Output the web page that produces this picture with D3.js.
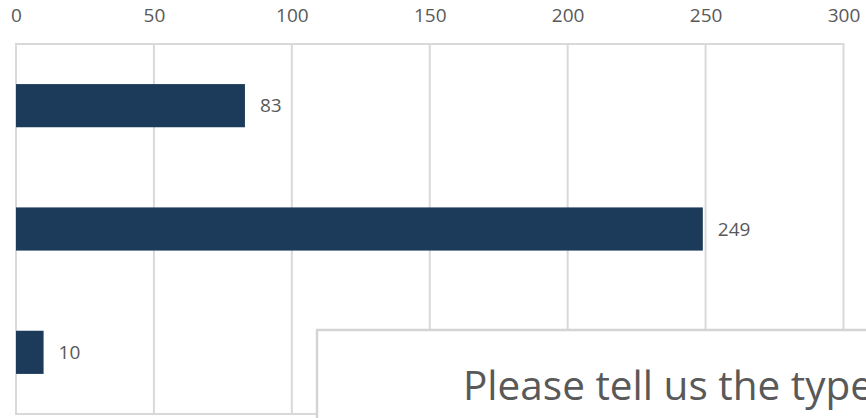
<!DOCTYPE html>
<html><head><meta charset="utf-8">
<script src="https://cdn.jsdelivr.net/npm/d3@7"></script>
<style>html,body{margin:0;padding:0;background:#fff;overflow:hidden}</style>
</head><body>
<svg id="c" width="866" height="418"></svg>
<script>
const categories = ["A", "B", "C"];
const values = [83, 249, 10];
const tickValues = [0, 50, 100, 150, 200, 250, 300];
const overlayText = "Please tell us the type";

const svg = d3.select("#c");
const m = {left: 16, right: 843.5, top: 44, bottom: 414};
const x = d3.scaleLinear().domain([0, 300]).range([m.left, m.right]);
const y = d3.scaleBand().domain(categories).range([m.top, m.bottom]).paddingInner(0.65).paddingOuter(0.325);

// gridlines
svg.append("g").selectAll("line").data(tickValues).join("line")
  .attr("x1", d => x(d)).attr("x2", d => x(d))
  .attr("y1", m.top).attr("y2", m.bottom)
  .attr("stroke", "#d9d9d9").attr("stroke-width", 2);
svg.append("line").attr("x1", m.left - 1).attr("x2", m.right + 1)
  .attr("y1", m.top).attr("y2", m.top).attr("stroke", "#d9d9d9").attr("stroke-width", 2);
svg.append("line").attr("x1", m.left - 1).attr("x2", m.right + 1)
  .attr("y1", m.bottom).attr("y2", m.bottom).attr("stroke", "#d9d9d9").attr("stroke-width", 2);

// top axis
const ax = svg.append("g").attr("transform", `translate(0,${m.top})`)
  .call(d3.axisTop(x).tickValues(tickValues).tickSize(0).tickPadding(22));
ax.select(".domain").remove();
ax.selectAll("text").attr("font-family", "'Open Sans', sans-serif").attr("font-size", 19).attr("fill", "#595959");

// bars
svg.append("g").selectAll("rect").data(values).join("rect")
  .attr("x", x(0)).attr("y", (d, i) => y(categories[i]))
  .attr("width", d => x(d) - x(0)).attr("height", y.bandwidth())
  .attr("fill", "#1c3a5a");

svg.append("g").selectAll("text").data(values).join("text")
  .attr("x", d => x(d) + 15).attr("y", (d, i) => y(categories[i]) + y.bandwidth() / 2)
  .attr("dy", "0.35em")
  .attr("font-family", "'Open Sans', sans-serif").attr("font-size", 19).attr("fill", "#595959")
  .text(d => d);

// overlay box
svg.append("rect").attr("x", 317).attr("y", 330).attr("width", 600).attr("height", 200)
  .attr("fill", "#fff").attr("stroke", "#d4d4d4").attr("stroke-width", 2.5);
svg.append("text").attr("x", 463).attr("y", 400)
  .attr("font-family", "'Open Sans', sans-serif").attr("font-size", 40.5).attr("fill", "#595959")
  .text(overlayText);
</script>
</body></html>
